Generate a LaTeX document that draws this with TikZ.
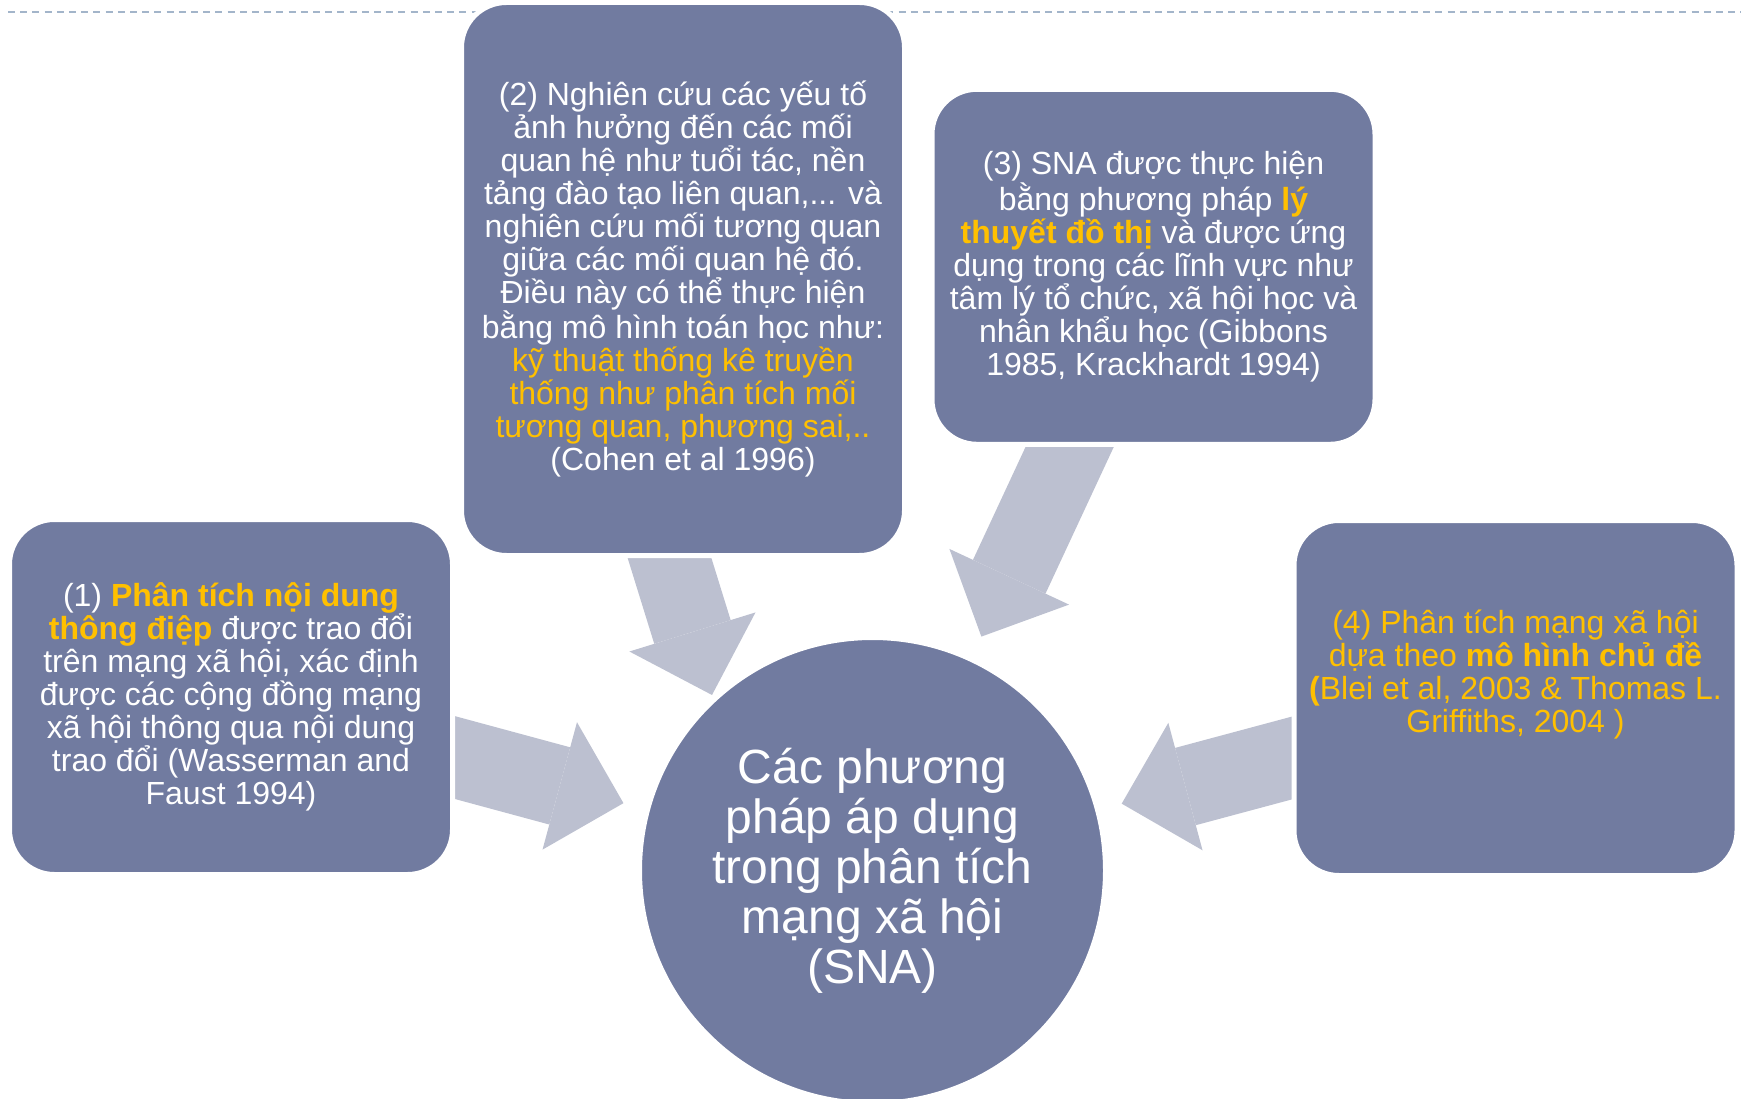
\documentclass[tikz,border=0pt]{standalone}
\usepackage{fontspec}
\setmainfont{Liberation Sans}
\usepackage{tikz}
\definecolor{boxblue}{RGB}{113, 123, 160}
\definecolor{arrowgray}{RGB}{188, 192, 208}
\definecolor{gold}{RGB}{255, 192, 0}
\definecolor{dashblue}{RGB}{163, 181, 202}
\usetikzlibrary{arrows.meta}
\pgfdeclarelayer{bg}
\pgfsetlayers{bg,main}
\newcommand{\yel}[1]{\textcolor{gold}{#1}}
\newcommand{\yelb}[1]{\textcolor{gold}{\textbf{#1}}}

\begin{document}
\begin{tikzpicture}[x=1pt, y=-1pt,
			box/.style={draw=white, line width=5pt, fill=boxblue, rounded corners=45pt, minimum width=443pt, minimum height=355pt, inner sep=0pt, text=white, align=center, font=\fontsize{32}{33}\selectfont},
			hub/.style={circle, draw=white, line width=5pt, fill=boxblue, minimum size=466pt, inner sep=0pt, text=white, align=center, font=\fontsize{48}{50}\selectfont},
			fat/.style={draw=arrowgray, line width=80pt, -{Triangle[width=132pt, length=66pt, line width=0pt]}}]
			%Bildbereich
			\useasboundingbox (0,0) rectangle (1741,1099);
			%Kaesten
			\node[box] (m1) at (231,697) {(1) \yelb{Phân tích nội dung}\\ \yelb{thông điệp} được trao đổi\\ trên mạng xã hội, xác định\\ được các cộng đồng mạng\\ xã hội thông qua nội dung\\ trao đổi (Wasserman and\\ Faust 1994)};
			\node[box, minimum height=553pt] (m2) at (683,279) {(2) Nghiên cứu các yếu tố\\ ảnh hưởng đến các mối\\ quan hệ như tuổi tác, nền\\ tảng đào tạo liên quan,... và\\ nghiên cứu mối tương quan\\ giữa các mối quan hệ đó.\\ Điều này có thể thực hiện\\ bằng mô hình toán học như:\\ \yel{kỹ thuật thống kê truyền}\\ \yel{thống như phân tích mối}\\ \yel{tương quan, phương sai,..}\\ (Cohen et al 1996)};
			\node[box] (m3) at (1153.5,266.8) {(3) SNA được thực hiện\\ bằng phương pháp \yelb{lý}\\ \yelb{thuyết đồ thị} và được ứng\\ dụng trong các lĩnh vực như\\ tâm lý tổ chức, xã hội học và\\ nhân khẩu học (Gibbons\\ 1985, Krackhardt 1994)};
			\node[box] (m4) at (1515.5,698) {};
			\node[text=gold, align=center, font=\fontsize{32}{33}\selectfont, inner sep=0pt] (t4) at ([yshift=23.5pt]m4.center) {(4) Phân tích mạng xã hội\\ dựa theo \textbf{mô hình chủ đề}\\ \textbf{(}Blei et al, 2003 \& Thomas L.\\ Griffiths, 2004 )};
			%Mitte
			\node[hub] (sna) at (872.5,870.5) {Các phương\\ pháp áp dụng\\ trong phân tích\\ mạng xã hội\\ (SNA)};
			\coordinate (tip2) at (712,695);
			%Pfeile und Linie hinten
			\begin{pgfonlayer}{bg}
				\draw[dashblue, line width=2.3pt, dash pattern=on 7pt off 5.2pt] (8,12) -- (1741,12);
				\draw[fat, shorten >=22.5pt] (m1.center) -- (sna);
				\draw[fat] ([xshift=-100pt]m2.center) -- (tip2);
				\draw[fat, shorten >=22.5pt] (m3.center) -- (sna);
				\draw[fat, shorten >=22.5pt] (m4.center) -- (sna);
			\end{pgfonlayer}
		\end{tikzpicture}
\end{document}
